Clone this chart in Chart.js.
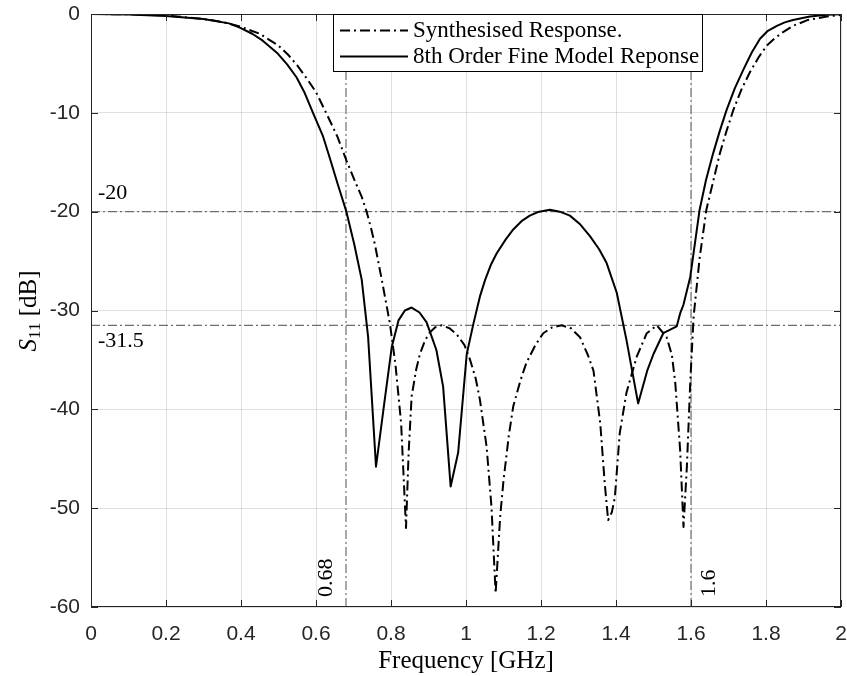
<!DOCTYPE html>
<html>
<head>
<meta charset="utf-8">
<script src="https://cdn.jsdelivr.net/npm/chart.js@4/dist/chart.umd.min.js"></script>
<style>
  html, body { margin: 0; padding: 0; background: #ffffff; }
  #wrap { width: 847px; height: 676px; position: relative; }
</style>
</head>
<body>
<div id="wrap"><canvas id="c" width="847" height="676"></canvas></div>
<script>
// Synthesised filter response, S11 in dB against frequency in GHz
const freqSynth = [0, 0.1, 0.2, 0.3, 0.35, 0.4, 0.45, 0.5, 0.525, 0.55, 0.575, 0.6, 0.627, 0.657, 0.681, 0.707, 0.722, 0.735, 0.747, 0.757, 0.777, 0.797, 0.812, 0.827, 0.840, 0.847, 0.855, 0.867, 0.877, 0.891, 0.904, 0.918, 0.935, 0.956, 0.975, 0.996, 1.011, 1.026, 1.037, 1.055, 1.068, 1.079, 1.091, 1.100, 1.114, 1.126, 1.145, 1.161, 1.185, 1.206, 1.230, 1.255, 1.280, 1.304, 1.325, 1.340, 1.358, 1.370, 1.379, 1.389, 1.397, 1.410, 1.428, 1.455, 1.482, 1.509, 1.535, 1.549, 1.558, 1.571, 1.580, 1.589, 1.598, 1.607, 1.623, 1.641, 1.660, 1.677, 1.695, 1.713, 1.735, 1.757, 1.780, 1.802, 1.822, 1.843, 1.872, 1.912, 1.962, 2.0];
const s11Synth = [0, -0.03, -0.15, -0.5, -0.8, -1.3, -2.0, -3.2, -4.1, -5.2, -6.5, -7.9, -10.0, -12.4, -14.8, -17.2, -18.5, -20.0, -21.7, -23.3, -27.2, -31.3, -35.5, -41.4, -52.0, -44.4, -38.7, -36.0, -34.4, -33.0, -32.2, -31.7, -31.5, -31.8, -32.4, -33.5, -35.0, -36.9, -39.0, -43.8, -49.9, -58.6, -50.9, -47.2, -42.7, -39.7, -37.1, -35.3, -33.5, -32.3, -31.7, -31.5, -31.8, -32.7, -34.5, -36.1, -41.4, -47.5, -51.2, -50.4, -48.9, -42.4, -38.3, -34.7, -32.3, -31.5, -32.7, -34.5, -37.3, -44.1, -51.9, -45.8, -37.3, -30.6, -24.7, -19.8, -16.8, -14.1, -11.8, -9.7, -7.6, -5.9, -4.4, -3.2, -2.5, -1.9, -1.2, -0.6, -0.25, -0.1];

// 8th order fine model response
const freqFine = [0, 0.1, 0.2, 0.3, 0.368, 0.398, 0.43, 0.458, 0.498, 0.523, 0.548, 0.570, 0.592, 0.618, 0.637, 0.657, 0.681, 0.702, 0.722, 0.739, 0.760, 0.782, 0.802, 0.820, 0.837, 0.855, 0.876, 0.895, 0.921, 0.939, 0.959, 0.979, 1.002, 1.020, 1.037, 1.051, 1.066, 1.082, 1.106, 1.126, 1.150, 1.170, 1.195, 1.224, 1.250, 1.277, 1.305, 1.331, 1.355, 1.375, 1.402, 1.428, 1.459, 1.484, 1.500, 1.526, 1.562, 1.571, 1.580, 1.589, 1.598, 1.623, 1.640, 1.659, 1.677, 1.695, 1.717, 1.740, 1.762, 1.784, 1.805, 1.829, 1.850, 1.872, 1.917, 1.962, 2.0];
const s11Fine = [0, -0.05, -0.2, -0.5, -0.95, -1.4, -2.0, -2.7, -4.0, -5.1, -6.4, -8.0, -10.0, -12.3, -14.6, -17.1, -20.0, -23.3, -26.9, -32.7, -45.8, -39.4, -33.7, -31.0, -30.0, -29.7, -30.2, -31.2, -34.0, -37.7, -47.8, -44.4, -34.4, -31.3, -28.6, -26.9, -25.4, -24.2, -22.8, -21.8, -20.9, -20.4, -20.0, -19.8, -20.0, -20.4, -21.3, -22.5, -23.8, -25.2, -28.2, -33.0, -39.4, -36.0, -34.4, -32.3, -31.6, -30.3, -29.4, -28.0, -26.6, -19.8, -16.8, -14.1, -11.8, -9.7, -7.5, -5.6, -3.9, -2.5, -1.7, -1.2, -0.85, -0.6, -0.25, -0.08, -0.03];

// Specification markers
const specLevels = [-20, -31.5];      // dB
const bandEdges = [0.68, 1.6];        // GHz
const xTicks = [0, 0.2, 0.4, 0.6, 0.8, 1, 1.2, 1.4, 1.6, 1.8, 2];
const yTicks = [0, -10, -20, -30, -40, -50, -60];
const seriesNames = ['Synthesised Response.', '8th Order Fine Model Reponse'];

const X_MIN = 0, X_MAX = 2, Y_MIN = -60, Y_MAX = 0;
const AXIS_COLOR = '#262626';
const SERIF = '"Liberation Serif", "DejaVu Serif", serif';
const SANS = '"Liberation Sans", Arial, sans-serif';
const CURVE_DASH = [10, 4, 2, 4];
const REF_DASH = [9, 3, 2, 3];

function pts(xs, ys) { return xs.map((x, i) => ({ x: x, y: ys[i] })); }

const datasets = [
  { label: seriesNames[0], data: pts(freqSynth, s11Synth), borderColor: '#000', borderWidth: 2,
    borderDash: CURVE_DASH, pointRadius: 0, tension: 0, borderJoinStyle: 'round', fill: false },
  { label: seriesNames[1], data: pts(freqFine, s11Fine), borderColor: '#000', borderWidth: 2,
    pointRadius: 0, tension: 0, borderJoinStyle: 'round', fill: false }
];
specLevels.forEach(v => datasets.push({
  label: '', isRef: true, data: [{ x: X_MIN, y: v }, { x: X_MAX, y: v }],
  borderColor: '#6e6e6e', borderWidth: 1.2, borderDash: REF_DASH, pointRadius: 0, fill: false
}));
bandEdges.forEach(v => datasets.push({
  label: '', isRef: true, data: [{ x: v, y: Y_MIN }, { x: v, y: Y_MAX }],
  borderColor: '#6e6e6e', borderWidth: 1.2, borderDash: REF_DASH, pointRadius: 0, fill: false
}));

// Axes box, inward tick marks, annotation labels, titles and boxed legend
const decor = {
  id: 'decor',
  afterDraw(chart) {
    const ctx = chart.ctx;
    const a = chart.chartArea;
    const sx = chart.scales.x, sy = chart.scales.y;
    ctx.save();
    // box
    ctx.strokeStyle = AXIS_COLOR;
    ctx.lineWidth = 1;
    ctx.setLineDash([]);
    ctx.strokeRect(a.left + 0.5, a.top + 0.5, a.right - a.left - 1, a.bottom - a.top - 1);
    // inward ticks on all four sides
    const tl = 7;
    ctx.beginPath();
    xTicks.forEach(v => {
      const px = Math.round(sx.getPixelForValue(v)) + 0.5;
      ctx.moveTo(px, a.bottom); ctx.lineTo(px, a.bottom - tl);
      ctx.moveTo(px, a.top); ctx.lineTo(px, a.top + tl);
    });
    yTicks.forEach(v => {
      const py = Math.round(sy.getPixelForValue(v)) + 0.5;
      ctx.moveTo(a.left, py); ctx.lineTo(a.left + tl, py);
      ctx.moveTo(a.right, py); ctx.lineTo(a.right - tl, py);
    });
    ctx.stroke();

    // spec labels
    ctx.fillStyle = '#000';
    ctx.font = '22px ' + SERIF;
    ctx.textAlign = 'left';
    ctx.textBaseline = 'middle';
    specLevels.forEach((v, i) => {
      const py = sy.getPixelForValue(v);
      const off = i === 0 ? -18 : 16;
      ctx.fillText(String(v), a.left + 7, py + off);
    });
    bandEdges.forEach((v, i) => {
      const px = sx.getPixelForValue(v);
      ctx.save();
      ctx.translate(i === 0 ? px - 20 : px + 18, a.bottom - 10);
      ctx.rotate(-Math.PI / 2);
      ctx.textAlign = 'left';
      ctx.textBaseline = 'middle';
      ctx.fillText(String(v), 0, 0);
      ctx.restore();
    });

    // x title
    ctx.font = '25px ' + SERIF;
    ctx.textAlign = 'center';
    ctx.textBaseline = 'middle';
    ctx.fillText('Frequency [GHz]', (a.left + a.right) / 2, 661);

    // y title: S with subscript 11, then [dB]
    ctx.save();
    ctx.translate(28, 311);
    ctx.rotate(-Math.PI / 2);
    const fMain = '25px ' + SERIF, fIt = 'italic 25px ' + SERIF, fSub = '17px ' + SERIF;
    ctx.font = fIt; const wS = ctx.measureText('S').width;
    ctx.font = fSub; const w11 = ctx.measureText('11').width;
    ctx.font = fMain; const wDb = ctx.measureText(' [dB]').width;
    let x0 = -(wS + w11 + wDb) / 2;
    ctx.textAlign = 'left';
    ctx.textBaseline = 'alphabetic';
    ctx.font = fIt; ctx.fillText('S', x0, 8); x0 += wS;
    ctx.font = fSub; ctx.fillText('11', x0, 12); x0 += w11;
    ctx.font = fMain; ctx.fillText(' [dB]', x0, 8);
    ctx.restore();

    // legend
    const lx = 333, ly = a.top, lw = 369, lh = 57;
    ctx.fillStyle = '#fff';
    ctx.fillRect(lx, ly, lw, lh);
    ctx.strokeStyle = '#000';
    ctx.lineWidth = 1;
    ctx.strokeRect(lx + 0.5, ly + 0.5, lw, lh);
    const rows = [ly + 16.5, ly + 42.5];
    chart.data.datasets.forEach((ds, i) => {
      if (ds.isRef) return;
      const ry = rows[i];
      ctx.strokeStyle = ds.borderColor;
      ctx.lineWidth = ds.borderWidth;
      ctx.setLineDash(ds.borderDash || []);
      ctx.beginPath();
      ctx.moveTo(lx + 7, ry); ctx.lineTo(lx + 75, ry);
      ctx.stroke();
      ctx.setLineDash([]);
      ctx.fillStyle = '#000';
      ctx.font = '23px ' + SERIF;
      ctx.textAlign = 'left';
      ctx.textBaseline = 'middle';
      ctx.fillText(ds.label, lx + 80, ry);
    });
    ctx.restore();
  }
};

function noPad(s) { s.paddingTop = 0; s.paddingBottom = 0; s.paddingLeft = 0; s.paddingRight = 0; }

new Chart(document.getElementById('c'), {
  type: 'line',
  data: { datasets: datasets },
  plugins: [decor],
  options: {
    responsive: false,
    animation: false,
    devicePixelRatio: 1,
    layout: { padding: { top: 14, right: 6, left: 0, bottom: 0 } },
    plugins: { legend: { display: false }, tooltip: { enabled: false } },
    scales: {
      x: {
        type: 'linear', min: X_MIN, max: X_MAX,
        afterBuildTicks: s => { s.ticks = xTicks.map(v => ({ value: v })); },
        afterFit: s => { s.height = 69; noPad(s); },
        ticks: { color: AXIS_COLOR, font: { family: SANS, size: 21 }, padding: 15,
                 maxRotation: 0, autoSkip: false, callback: v => String(+v.toFixed(1)) },
        grid: { color: 'rgba(38,38,38,0.14)', lineWidth: 1, drawTicks: false },
        border: { display: false }
      },
      y: {
        type: 'linear', min: Y_MIN, max: Y_MAX,
        afterBuildTicks: s => { s.ticks = yTicks.map(v => ({ value: v })); },
        afterFit: s => { s.width = 91; noPad(s); },
        ticks: { color: AXIS_COLOR, font: { family: SANS, size: 21 }, padding: 11,
                 autoSkip: false, callback: v => String(v) },
        grid: { color: 'rgba(38,38,38,0.14)', lineWidth: 1, drawTicks: false },
        border: { display: false }
      }
    }
  }
});
</script>
</body>
</html>
